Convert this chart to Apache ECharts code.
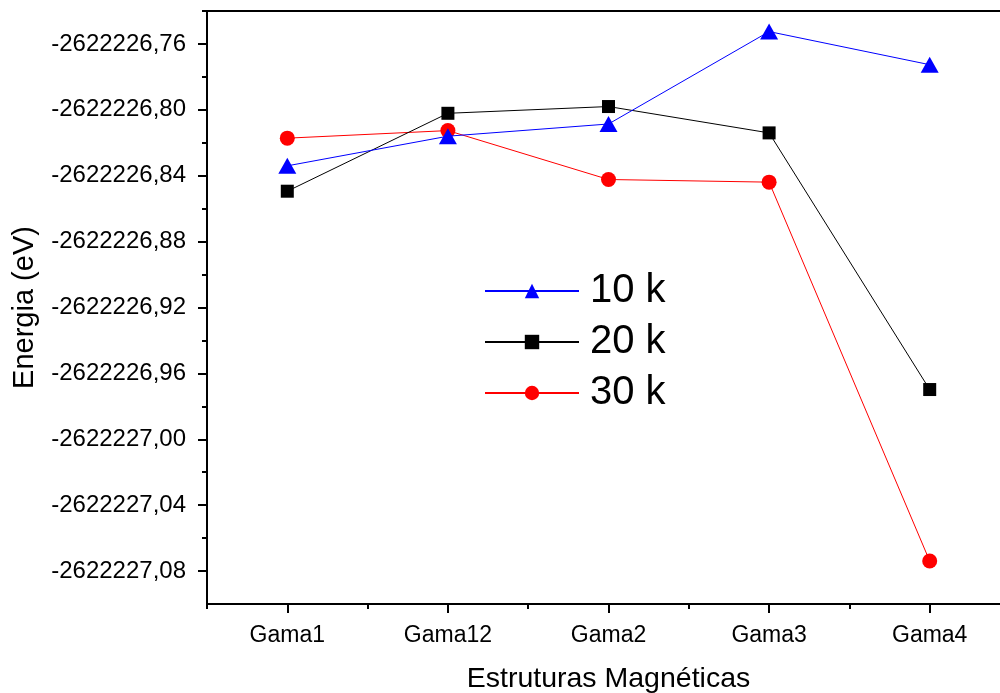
<!DOCTYPE html>
<html>
<head>
<meta charset="utf-8">
<script src="https://cdn.jsdelivr.net/npm/echarts@6/dist/echarts.min.js"></script>
<style>html,body{margin:0;padding:0;background:#fff;}#c{width:1000px;height:693px;}</style>
</head>
<body>
<div id="c"></div>
<script>
const categories = ['Gama1', 'Gama12', 'Gama2', 'Gama3', 'Gama4'];
const k10 = [-2622226.834, -2622226.816, -2622226.8086, -2622226.7525, -2622226.7726];
const k20 = [-2622226.8494, -2622226.8021, -2622226.798, -2622226.814, -2622226.9698];
const k30 = [-2622226.8172, -2622226.8126, -2622226.8423, -2622226.8439, -2622227.0739];
const yMajorTicks = [-2622227.08, -2622227.04, -2622227.00, -2622226.96, -2622226.92, -2622226.88, -2622226.84, -2622226.80, -2622226.76];
const yMinorTicks = [-2622227.06, -2622227.02, -2622226.98, -2622226.94, -2622226.90, -2622226.86, -2622226.82, -2622226.78, -2622226.74];
const yMin = -2622227.10, yMax = -2622226.74;

const FONT = 'Liberation Sans, Arial, sans-serif';
const chart = echarts.init(document.getElementById('c'));
const fmt = v => Number(v).toFixed(2).replace('.', ',');
chart.setOption({
  animation: false,
  backgroundColor: '#fff',
  grid: { left: 207, top: 11, width: 803, height: 593, containLabel: false, outerBoundsMode: 'none' },
  legend: {
    orient: 'vertical', left: 479, top: 266,
    itemWidth: 94, itemHeight: 18, itemGap: 11,
    textStyle: { fontSize: 40, fontFamily: FONT, color: '#000', lineHeight: 40, padding: [0, 0, 0, 6] },
    data: ['10 k', '20 k', '30 k']
  },
  xAxis: [
    {
      type: 'category', data: categories, boundaryGap: true,
      axisLine: { show: true, lineStyle: { color: '#000', width: 2 } },
      axisTick: { show: true, alignWithLabel: true, length: 9, lineStyle: { color: '#000', width: 2 } },
      axisLabel: { interval: 0, fontSize: 23, fontFamily: FONT, color: '#000', margin: 20 },
      splitLine: { show: false },
      name: 'Estruturas Magnéticas', nameLocation: 'middle', nameGap: 61,
      nameTextStyle: { fontSize: 28.5, fontFamily: FONT, color: '#000' }
    },
    {
      type: 'category', data: categories, boundaryGap: true, position: 'bottom',
      axisLine: { show: false },
      axisTick: { show: true, length: 5, lineStyle: { color: '#000', width: 2 } },
      axisLabel: { show: false }, splitLine: { show: false }
    },
    {
      type: 'category', data: categories, boundaryGap: true, position: 'top',
      axisLine: { show: true, lineStyle: { color: '#000', width: 2 } },
      axisTick: { show: false }, axisLabel: { show: false }, splitLine: { show: false }
    }
  ],
  yAxis: [
    {
      type: 'value', min: yMin, max: yMax, position: 'left',
      axisLine: { show: true, lineStyle: { color: '#000', width: 2 } },
      axisTick: { show: true, length: 9, customValues: yMajorTicks, lineStyle: { color: '#000', width: 2 } },
      axisLabel: { customValues: yMajorTicks, formatter: fmt, fontSize: 24, fontFamily: FONT, color: '#000', margin: 21 },
      splitLine: { show: false },
      name: 'Energia (eV)', nameLocation: 'middle', nameGap: 168, nameRotate: 90,
      nameTextStyle: { fontSize: 29, fontFamily: FONT, color: '#000' }
    },
    {
      type: 'value', min: yMin, max: yMax, position: 'left',
      axisLine: { show: false },
      axisTick: { show: true, length: 5, customValues: yMinorTicks, lineStyle: { color: '#000', width: 2 } },
      axisLabel: { show: false }, splitLine: { show: false }
    }
  ],
  series: [
    {
      name: '10 k', type: 'line', data: k10, xAxisIndex: 0, yAxisIndex: 0, z: 4,
      symbol: 'triangle', symbolSize: [18, 16],
      lineStyle: { color: '#0000ff', width: 1 }, itemStyle: { color: '#0000ff' }
    },
    {
      name: '20 k', type: 'line', data: k20, xAxisIndex: 0, yAxisIndex: 0, z: 3,
      symbol: 'rect', symbolSize: 13,
      lineStyle: { color: '#000000', width: 1 }, itemStyle: { color: '#000000' }
    },
    {
      name: '30 k', type: 'line', data: k30, xAxisIndex: 0, yAxisIndex: 0, z: 2,
      symbol: 'circle', symbolSize: 15,
      lineStyle: { color: '#ff0000', width: 1 }, itemStyle: { color: '#ff0000' }
    }
  ]
});
</script>
</body>
</html>
